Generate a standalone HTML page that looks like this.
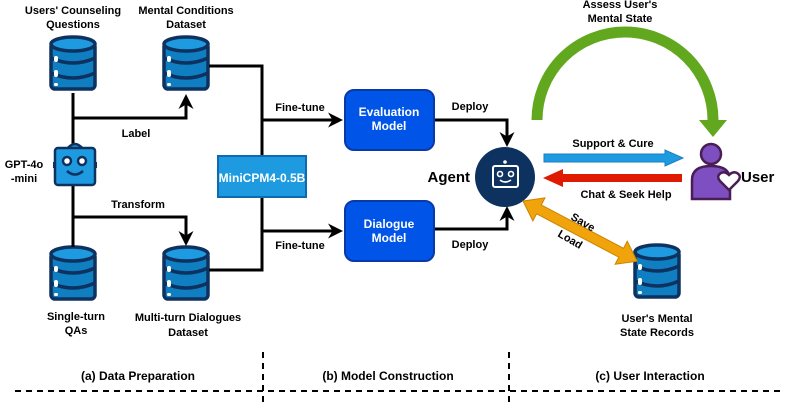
<!DOCTYPE html>
<html><head><meta charset="utf-8"><style>
html,body{margin:0;padding:0;background:#fff;}
svg{display:block;font-family:"Liberation Sans",Arial,sans-serif;font-weight:bold;}
</style></head><body>
<svg width="793" height="402" viewBox="0 0 793 402" xmlns="http://www.w3.org/2000/svg">
<defs>
<g id="db">
  <rect x="-22" y="-21" width="44" height="46" rx="4" fill="#0f7fc2" stroke="#0d3260" stroke-width="3.5"/>
  <ellipse cx="0" cy="-20" rx="22" ry="7" fill="#1e9be0" stroke="#0d3260" stroke-width="3.5"/>
  <path d="M-22 -6 Q0 4 22 -6 M-22 9 Q0 19 22 9" fill="none" stroke="#0d3260" stroke-width="3.5"/>
  <rect x="-19" y="-8" width="4" height="6" rx="2" fill="#fff"/>
  <rect x="-19" y="6" width="4" height="7" rx="2" fill="#fff"/>
  <rect x="-19" y="19" width="4" height="3" rx="1.5" fill="#fff"/>
</g>
<marker id="ah" viewBox="0 0 10 10" refX="8" refY="5" markerWidth="5" markerHeight="5" orient="auto-start-reverse">
  <path d="M0 0 L10 5 L0 10 L3 5 Z" fill="#000"/>
</marker>
</defs>

<use href="#db" x="73" y="64"/>
<use href="#db" x="186" y="64"/>
<use href="#db" x="73" y="274"/>
<use href="#db" x="186" y="274"/>
<use href="#db" x="657" y="272"/>

<g fill="none" stroke="#000" stroke-width="3">
  <path d="M73 93 V145"/>
  <path d="M73 186 V247"/>
  <path d="M73 118 H186 V97" marker-end="url(#ah)"/>
  <path d="M73 217 H186 V243" marker-end="url(#ah)"/>
  <path d="M209 66 H262 V156"/>
  <path d="M209 270 H262 V197"/>
  <path d="M262 120 H340" marker-end="url(#ah)"/>
  <path d="M262 231 H340" marker-end="url(#ah)"/>
  <path d="M434 120 H507 V144" marker-end="url(#ah)"/>
  <path d="M434 229 H507 V209" marker-end="url(#ah)"/>
</g>

<!-- GPT robot -->
<path d="M67 149 Q75 139 83 149" fill="#1e9be0" stroke="#0d3260" stroke-width="2.5"/>
<rect x="53" y="162" width="3" height="6" fill="#0d3260"/>
<rect x="94" y="162" width="3" height="6" fill="#0d3260"/>
<rect x="55" y="148" width="40" height="37" rx="3" fill="#1e9be0" stroke="#0d3260" stroke-width="2.5"/>
<circle cx="67" cy="161" r="4" fill="#fff" stroke="#0d3260" stroke-width="2.5"/>
<circle cx="82" cy="161" r="4" fill="#fff" stroke="#0d3260" stroke-width="2.5"/>
<path d="M67 171 Q75 178 83 171" fill="none" stroke="#0d3260" stroke-width="2.5"/>

<rect x="218" y="156" width="88" height="41" fill="#1e9be0" stroke="#0f6ab0" stroke-width="2"/>
<text x="262" y="182" font-size="12" fill="#fff" text-anchor="middle">MiniCPM4-0.5B</text>

<rect x="345" y="90" width="89" height="60" rx="9" fill="#0055e8" stroke="#0a3aa8" stroke-width="2"/>
<text x="389" y="116" font-size="12" fill="#fff" text-anchor="middle">Evaluation</text>
<text x="389" y="130" font-size="12" fill="#fff" text-anchor="middle">Model</text>
<rect x="345" y="201" width="89" height="60" rx="9" fill="#0055e8" stroke="#0a3aa8" stroke-width="2"/>
<text x="389" y="228" font-size="12" fill="#fff" text-anchor="middle">Dialogue</text>
<text x="389" y="242" font-size="12" fill="#fff" text-anchor="middle">Model</text>

<circle cx="505" cy="177" r="30" fill="#0d3260"/>
<rect x="493" y="166" width="25" height="21" rx="2" fill="none" stroke="#fff" stroke-width="2"/>
<circle cx="505" cy="162" r="1.8" fill="#fff"/>
<circle cx="500" cy="174" r="2.5" fill="none" stroke="#fff" stroke-width="1.6"/>
<circle cx="511" cy="174" r="2.5" fill="none" stroke="#fff" stroke-width="1.6"/>
<path d="M500 180 Q505 184 511 180" fill="none" stroke="#fff" stroke-width="1.6"/>
<text x="470" y="182" font-size="15" fill="#000" text-anchor="end">Agent</text>

<path d="M537 120 A88 88 0 0 1 713 120" fill="none" stroke="#62a81e" stroke-width="11"/>
<path d="M699 120 L727 120 L713 137 Z" fill="#62a81e"/>

<path d="M544 154 H665 V150 L683 158 L665 166 V162 H544 Z" fill="#1e9be0" stroke="#1a7fbf" stroke-width="1"/>
<path d="M682 174 H563 V169 L543 178 L563 187 V182 H682 Z" fill="#e01a00"/>

<circle cx="711" cy="154" r="10" fill="#7d4fc1" stroke="#4a1e54" stroke-width="2.5"/>
<path d="M692 199 V180 Q692 166 711 166 Q730 166 730 180 V199 Z" fill="#7d4fc1" stroke="#4a1e54" stroke-width="2.5"/>
<path d="M729 190 L720 181 Q716 176 721 173 Q725 171 729 175 Q733 171 737 173 Q742 176 738 181 Z" fill="#fff" stroke="#4a1e54" stroke-width="2.5"/>
<text x="741" y="182" font-size="15" fill="#000">User</text>

<g transform="translate(523,201) rotate(27.8)">
  <path d="M0 0 L18 -13 L18 -5 L111 -5 L111 -13 L129 0 L111 13 L111 5 L18 5 L18 13 Z" fill="#f0a30a" stroke="#c98500" stroke-width="1"/>
</g>
<text x="0" y="0" font-size="11" transform="translate(570,219) rotate(30)">Save</text>
<text x="0" y="0" font-size="11" transform="translate(557,236) rotate(30)">Load</text>

<g font-size="11" fill="#000" text-anchor="middle">
  <text x="73" y="14">Users' Counseling</text>
  <text x="73" y="28">Questions</text>
  <text x="186" y="14">Mental Conditions</text>
  <text x="186" y="28">Dataset</text>
  <text x="136" y="137">Label</text>
  <text x="138" y="208">Transform</text>
  <text x="24" y="168">GPT-4o</text>
  <text x="24" y="182">-mini</text>
  <text x="76" y="320">Single-turn</text>
  <text x="76" y="334">QAs</text>
  <text x="188" y="321">Multi-turn Dialogues</text>
  <text x="188" y="336">Dataset</text>
  <text x="300" y="111">Fine-tune</text>
  <text x="300" y="249">Fine-tune</text>
  <text x="470" y="110">Deploy</text>
  <text x="470" y="248">Deploy</text>
  <text x="620" y="8">Assess User's</text>
  <text x="620" y="22">Mental State</text>
  <text x="613" y="147">Support &amp; Cure</text>
  <text x="626" y="198">Chat &amp; Seek Help</text>
  <text x="657" y="322">User's Mental</text>
  <text x="657" y="336">State Records</text>
  <text x="138" y="380" font-size="12">(a) Data Preparation</text>
  <text x="388" y="380" font-size="12">(b) Model Construction</text>
  <text x="650" y="380" font-size="12">(c) User Interaction</text>
</g>

<g stroke="#000" stroke-width="2" stroke-dasharray="6,5" fill="none">
  <path d="M263 352 V402"/>
  <path d="M509 352 V402"/>
  <path d="M15 391 H780"/>
</g>
</svg>
</body></html>
